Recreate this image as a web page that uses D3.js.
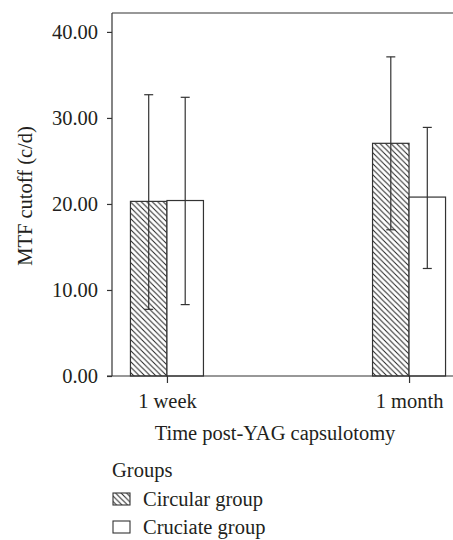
<!DOCTYPE html>
<html>
<head>
<meta charset="utf-8">
<script src="https://cdn.jsdelivr.net/npm/d3@7"></script>
<style>
  body { margin: 0; background: #fff; }
  svg { display: block; font-family: "Liberation Serif", "DejaVu Serif", serif; }
</style>
</head>
<body>
<div id="chart"></div>
<script>
// chart data
const categories = ["1 week", "1 month"];
const groups = ["Circular group", "Cruciate group"];
const circularMean = [20.3, 27.05];
const circularLow = [7.75, 17.0];
const circularHigh = [32.7, 37.1];
const cruciateMean = [20.4, 20.8];
const cruciateLow = [8.3, 12.5];
const cruciateHigh = [32.4, 28.9];
const yTicks = [0, 10, 20, 30, 40];

const width = 453, height = 540;
const margin = { top: 13, left: 112, bottom: 376 };
const ink = "#333";
const textInk = "#231f20";
const fontSize = "20.5px";

const rows = [];
categories.forEach((c, i) => {
  rows.push({ cat: c, group: groups[0], mean: circularMean[i], lo: circularLow[i], hi: circularHigh[i] });
  rows.push({ cat: c, group: groups[1], mean: cruciateMean[i], lo: cruciateLow[i], hi: cruciateHigh[i] });
});

const svg = d3.select("#chart").append("svg")
  .attr("width", width)
  .attr("height", height);

// diagonal hatch for the circular group
const defs = svg.append("defs");
defs.append("pattern")
  .attr("id", "hatch")
  .attr("patternUnits", "userSpaceOnUse")
  .attr("width", 5.5)
  .attr("height", 5.5)
  .call(p => {
    p.append("rect").attr("width", 5.5).attr("height", 5.5).attr("fill", "#fff");
    p.append("path")
      .attr("d", "M-1,-1 L6.5,6.5 M-3.75,1.75 L1.75,7.25 M3.75,-1.75 L7.25,1.75")
      .attr("stroke", "#222")
      .attr("stroke-width", 1);
  });

const x = d3.scalePoint()
  .domain(categories)
  .range([margin.left, 464])
  .padding(0.227);

const xSub = d3.scaleBand()
  .domain(groups)
  .range([-36.5, 36.5]);

const y = d3.scaleLinear()
  .domain([0, 42.2])
  .range([margin.bottom, margin.top]);

const fillFor = g => g === groups[0] ? "url(#hatch)" : "#fff";

// bars
svg.append("g")
  .selectAll("rect")
  .data(rows)
  .join("rect")
  .attr("x", d => x(d.cat) + xSub(d.group))
  .attr("y", d => y(d.mean))
  .attr("width", xSub.bandwidth())
  .attr("height", d => y(0) - y(d.mean))
  .attr("fill", d => fillFor(d.group))
  .attr("stroke", ink)
  .attr("stroke-width", 1.2);

// error bars
const err = svg.append("g")
  .attr("stroke", ink)
  .attr("stroke-width", 1.2);
const cx = d => x(d.cat) + xSub(d.group) + xSub.bandwidth() / 2;
err.selectAll("line.v").data(rows).join("line")
  .attr("class", "v")
  .attr("x1", cx).attr("x2", cx)
  .attr("y1", d => y(d.lo)).attr("y2", d => y(d.hi));
err.selectAll("line.top").data(rows).join("line")
  .attr("class", "top")
  .attr("x1", d => cx(d) - 4.5).attr("x2", d => cx(d) + 4.5)
  .attr("y1", d => y(d.hi)).attr("y2", d => y(d.hi));
err.selectAll("line.bot").data(rows).join("line")
  .attr("class", "bot")
  .attr("x1", d => cx(d) - 4.5).attr("x2", d => cx(d) + 4.5)
  .attr("y1", d => y(d.lo)).attr("y2", d => y(d.lo));

// top frame line
svg.append("line")
  .attr("x1", margin.left).attr("x2", width)
  .attr("y1", margin.top).attr("y2", margin.top)
  .attr("stroke", ink).attr("stroke-width", 1.2);

// y axis
const yAxis = svg.append("g")
  .attr("transform", `translate(${margin.left},0)`)
  .call(d3.axisLeft(y).tickValues(yTicks).tickFormat(d3.format(".2f")).tickSize(5).tickPadding(9));
yAxis.select(".domain").attr("d", `M0,${margin.bottom}V${margin.top}`);

// x axis
const xAxis = svg.append("g")
  .attr("transform", `translate(0,${margin.bottom})`)
  .call(d3.axisBottom(x).tickSize(7).tickPadding(10));
xAxis.select(".domain").attr("d", `M${margin.left - 5},0H${width}`);

svg.selectAll(".domain, .tick line").attr("stroke", ink).attr("stroke-width", 1.2);
svg.selectAll(".tick text")
  .attr("fill", textInk)
  .style("font-size", fontSize)
  .style("font-family", "'Liberation Serif', serif");

// axis titles
svg.append("text")
  .attr("transform", `translate(32,196) rotate(-90)`)
  .attr("text-anchor", "middle")
  .attr("fill", textInk)
  .style("font-size", fontSize)
  .text("MTF cutoff (c/d)");

svg.append("text")
  .attr("x", 275)
  .attr("y", 440)
  .attr("text-anchor", "middle")
  .attr("fill", textInk)
  .style("font-size", fontSize)
  .text("Time post-YAG capsulotomy");

// legend
const legend = svg.append("g").attr("transform", "translate(112,0)");
legend.append("text")
  .attr("x", 0).attr("y", 477)
  .attr("fill", textInk)
  .style("font-size", fontSize)
  .text("Groups");
const items = legend.selectAll("g.item")
  .data(groups)
  .join("g")
  .attr("class", "item")
  .attr("transform", (d, i) => `translate(0,${506 + i * 28})`);
items.append("rect")
  .attr("x", 1).attr("y", -13)
  .attr("width", 17).attr("height", 12)
  .attr("fill", d => fillFor(d))
  .attr("stroke", ink)
  .attr("stroke-width", 1.1);
items.append("text")
  .attr("x", 31).attr("y", 0)
  .attr("fill", textInk)
  .style("font-size", fontSize)
  .text(d => d);
</script>
</body>
</html>
